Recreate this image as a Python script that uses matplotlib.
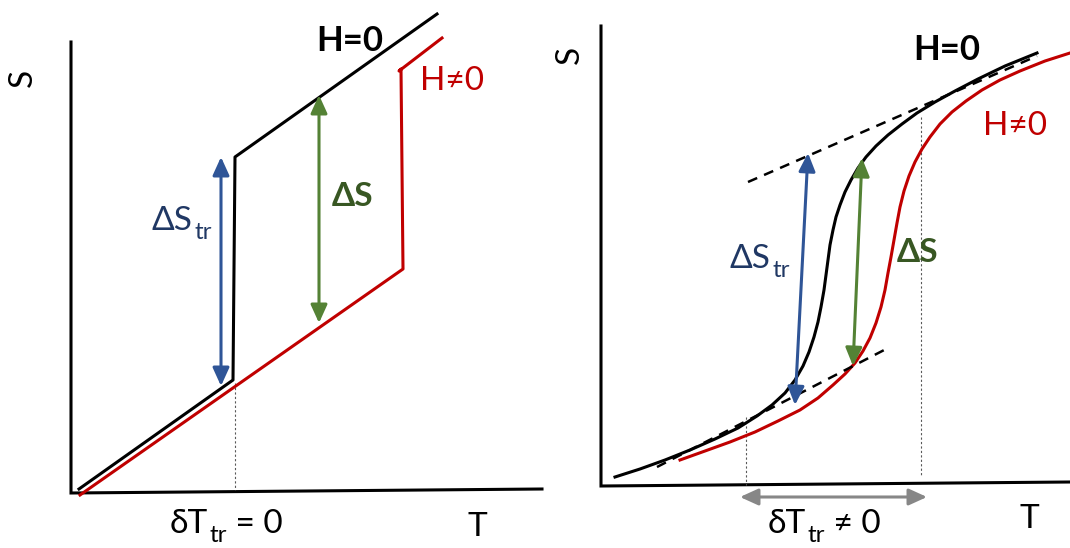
import matplotlib
matplotlib.use("Agg")
import matplotlib.pyplot as plt

plt.rcParams['font.family'] = ['Lato', 'DejaVu Sans']

# ---- data (pixel units, y grows downward) ----
# left panel: sharp transition
left_axis_T = [71, 71, 542]
left_axis_S = [42, 493, 489]
left_h0_T = [79, 233, 235, 437]
left_h0_S = [489, 380, 157, 14]
left_h1_T = [80, 403, 401, 399, 442]
left_h1_S = [495, 269, 69, 71, 38]
left_dS_tr = [(221, 386), (221, 157)]
left_dS = [(319, 323), (319, 95)]
left_guide_T = [235, 235]
left_guide_S = [383, 490]

# right panel: smooth transition
right_axis_T = [601, 601, 1070]
right_axis_S = [26, 486, 482]
right_h0_T = [615, 640, 665, 690, 715, 738, 757, 772, 785, 795, 803, 809, 814,
              818, 821, 824, 826, 828, 830, 833, 836, 840, 845, 851, 858, 866,
              876, 888, 902, 917, 935, 955, 978, 1005, 1037]
right_h0_S = [477, 469, 460, 450, 439, 428, 416, 405, 393, 380, 366, 352, 337,
              322, 307, 290, 275, 260, 245, 230, 217, 205, 192, 180, 168, 157,
              146, 135, 124, 113, 102, 91, 79, 66, 53]
right_h1_T = [680, 705, 730, 755, 778, 800, 818, 833, 845, 855, 863, 870, 876,
              881, 885, 888, 891, 894, 897, 900, 904, 909, 915, 922, 930, 940,
              952, 966, 982, 1000, 1020, 1045, 1070]
right_h1_S = [460, 451, 442, 432, 421, 410, 398, 385, 374, 363, 351, 338, 323,
              307, 290, 273, 257, 240, 223, 207, 191, 176, 162, 149, 137, 124,
              112, 101, 90, 80, 71, 61, 53]
right_tan_hi_T = [748, 1037]
right_tan_hi_S = [182, 56]
right_tan_lo_T = [657, 890]
right_tan_lo_S = [467, 347]
right_dS_tr = [(795, 405), (808, 153)]
right_dS = [(853, 366), (862, 158)]
right_guides = [(746, 417, 485), (921, 117, 477)]
right_dT = [(740, 497), (927, 497)]

RED = '#C00000'
BLUE = '#2F5597'
BLUE_TXT = '#203864'
GREEN = '#548235'
GREEN_TXT = '#385723'
GRAY = '#878787'

fig = plt.figure(figsize=(10.7, 5.48), dpi=100)
ax = fig.add_axes([0, 0, 1, 1])
ax.set_xlim(0, 1070)
ax.set_ylim(548, 0)
ax.axis('off')

LW = 2.2


def arrow(p0, p1, color):
    ax.annotate('', xy=p1, xytext=p0,
                arrowprops=dict(arrowstyle='<|-|>,head_length=0.55,head_width=0.25',
                                color=color, lw=LW, shrinkA=0, shrinkB=0,
                                mutation_scale=20))


def sub_text(x, y, main, sub, rest='', size=24, color='black', weight='normal'):
    t = ax.text(x, y, main, fontsize=size, color=color, weight=weight,
                ha='left', va='baseline')
    s = ax.annotate(sub, xy=(1, y), xycoords=(t, 'data'), xytext=(1, -6.5),
                    textcoords='offset points', fontsize=size * 0.72,
                    color=color, ha='left', va='baseline')
    if rest:
        ax.annotate(rest, xy=(1, y), xycoords=(s, 'data'), xytext=(0, 0),
                    textcoords='offset points', fontsize=size, color=color,
                    ha='left', va='baseline')


# ---- left panel ----
ax.plot(left_axis_T, left_axis_S, color='black', lw=LW, solid_joinstyle='miter')
ax.plot(left_guide_T, left_guide_S, color='#595959', lw=0.8, ls=(0, (2, 2)))
ax.plot(left_h1_T, left_h1_S, color=RED, lw=LW)
ax.plot(left_h0_T, left_h0_S, color='black', lw=LW)
arrow(*left_dS_tr, BLUE)
arrow(*left_dS, GREEN)

ax.text(23, 78, 'S', fontsize=24, rotation=90, ha='center', va='center')
ax.text(316, 51, 'H=0', fontsize=25, weight='bold', va='baseline')
ax.text(420, 90, 'H≠0', fontsize=24, color=RED, va='baseline')
sub_text(152, 230, 'ΔS', 'tr', color=BLUE_TXT)
ax.text(332, 206, 'ΔS', fontsize=24, weight='bold', color=GREEN_TXT, va='baseline')
sub_text(170, 533, 'δT', 'tr', ' = 0')
ax.text(468, 536, 'T', fontsize=24, va='baseline')

# ---- right panel ----
ax.plot(right_axis_T, right_axis_S, color='black', lw=LW, solid_joinstyle='miter')
for gx, g0, g1 in right_guides:
    ax.plot([gx, gx], [g0, g1], color='#595959', lw=0.8, ls=(0, (2, 2)))
ax.plot(right_h1_T, right_h1_S, color=RED, lw=LW)
ax.plot(right_h0_T, right_h0_S, color='black', lw=LW)
ax.plot(right_tan_hi_T, right_tan_hi_S, color='black', lw=1.8, ls=(0, (4, 3)))
ax.plot(right_tan_lo_T, right_tan_lo_S, color='black', lw=1.8, ls=(0, (4, 3)))
arrow(*right_dS_tr, BLUE)
arrow(*right_dS, GREEN)
arrow(*right_dT, GRAY)

ax.text(570, 55, 'S', fontsize=24, rotation=90, ha='center', va='center')
ax.text(913, 60, 'H=0', fontsize=25, weight='bold', va='baseline')
ax.text(983, 135, 'H≠0', fontsize=24, color=RED, va='baseline')
sub_text(730, 268, 'ΔS', 'tr', color=BLUE_TXT)
ax.text(897, 262, 'ΔS', fontsize=24, weight='bold', color=GREEN_TXT, va='baseline')
sub_text(768, 533, 'δT', 'tr', ' ≠ 0')
ax.text(1020, 528, 'T', fontsize=24, va='baseline')

fig.savefig('out.png', dpi=100)
